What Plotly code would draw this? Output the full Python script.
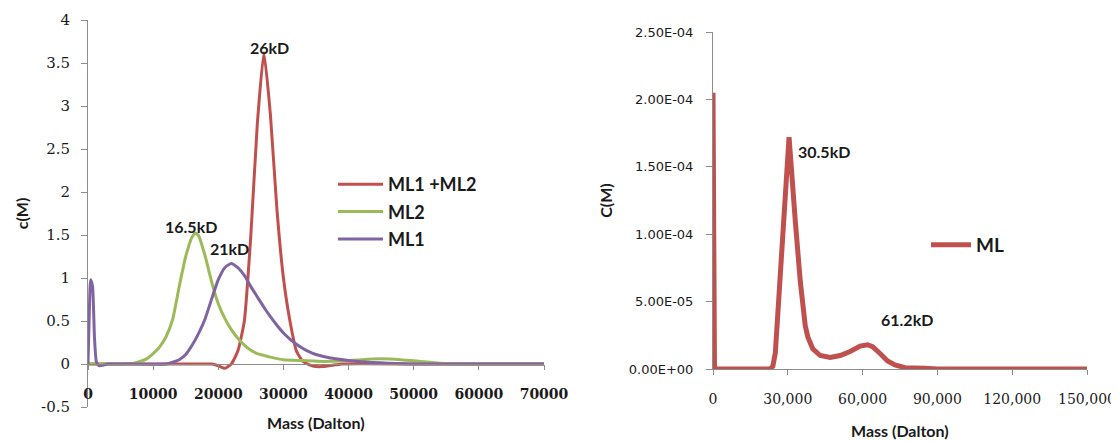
import plotly.graph_objects as go

# ---------------- Left panel data ----------------
mass_ml12 = [0, 1000, 5000, 10000, 15000, 18000, 19000, 20000, 21000, 22000, 23000, 24000, 25000,
             26000, 27000, 28000, 29000, 30000, 31000, 32000, 33000, 34000, 35000, 36000, 37000,
             38000, 39000, 50000, 60000, 70000]
c_ml12 = [0, 0, 0, 0, 0, 0, 0, -0.02, -0.05, 0.0, 0.15, 0.5, 1.5,
          2.8, 3.62, 2.9, 1.8, 1.0, 0.5, 0.15, 0.03, -0.01, -0.03, -0.03, -0.02,
          -0.01, 0, 0, 0, 0]

mass_ml2 = [0, 3000, 5000, 6000, 7000, 8000, 9000, 10000, 11000, 12000, 13000, 14000, 15000,
            16000, 16500, 17000, 18000, 19000, 20000, 21000, 22000, 23000, 24000, 25000, 26000,
            27000, 28000, 30000, 33000, 36000, 40000, 43000, 45000, 48000, 51000, 54000, 57000,
            70000]
c_ml2 = [0, 0, 0, 0.005, 0.01, 0.03, 0.06, 0.12, 0.2, 0.32, 0.52, 0.9, 1.25,
         1.48, 1.52, 1.49, 1.25, 0.95, 0.7, 0.53, 0.4, 0.3, 0.22, 0.16, 0.12,
         0.1, 0.08, 0.05, 0.04, 0.03, 0.04, 0.055, 0.06, 0.05, 0.03, 0.01, 0,
         0]

mass_ml1 = [0, 200, 400, 700, 1000, 1300, 1700, 2500, 3000, 12000, 13000, 14000, 15000, 16000,
            17000, 18000, 19000, 20000, 21000, 22000, 23000, 24000, 25000, 26000, 27000, 28000,
            29000, 30000, 31000, 32000, 33000, 34000, 35000, 36000, 38000, 40000, 43000, 46000,
            50000, 70000]
c_ml1 = [0, 0.6, 0.98, 0.9, 0.3, 0.02, -0.02, -0.01, 0, 0, 0.02, 0.05, 0.11, 0.22,
         0.36, 0.53, 0.76, 0.98, 1.12, 1.17, 1.12, 1.03, 0.9, 0.78, 0.66, 0.55,
         0.45, 0.36, 0.29, 0.23, 0.18, 0.14, 0.11, 0.09, 0.06, 0.04, 0.02, 0.01,
         0, 0]

left_yticks = [-0.5, 0, 0.5, 1, 1.5, 2, 2.5, 3, 3.5, 4]
left_yticklabels = ["-0.5", "0", "0.5", "1", "1.5", "2", "2.5", "3", "3.5", "4"]
left_xticks = [0, 10000, 20000, 30000, 40000, 50000, 60000, 70000]
left_xticklabels = ["0", "10000", "20000", "30000", "40000", "50000", "60000", "70000"]

# ---------------- Right panel data ----------------
mass_ml = [0, 600, 23000, 24000, 25000, 30500, 33000, 35000, 37000, 38000, 40000, 43000, 47000,
           51000, 55000, 59000, 62000, 64000, 67000, 70000, 73000, 77000, 85000, 90000, 150000]
c_ml = [2.05e-4, 0, 0, 2e-6, 1.2e-5, 1.72e-4, 1.1e-4, 6.5e-5, 3.2e-5, 2.4e-5, 1.5e-5, 1.0e-5, 8.5e-6,
        1.0e-5, 1.3e-5, 1.7e-5, 1.8e-5, 1.65e-5, 1.15e-5, 6e-6, 3e-6, 1e-6, 5e-7, 0, 0]

right_yticks = [0, 5e-5, 1e-4, 1.5e-4, 2e-4, 2.5e-4]
right_yticklabels = ["0.00E+00", "5.00E-05", "1.00E-04", "1.50E-04", "2.00E-04", "2.50E-04"]
right_xticks = [0, 30000, 60000, 90000, 120000, 150000]
right_xticklabels = ["0", "30,000", "60,000", "90,000", "120,000", "150,000"]

RED = "#C0504D"
GREEN = "#9BBB59"
PURPLE = "#8064A2"
AXIS = "#8C8C8C"
TXT = "#1a1a1a"

fig = go.Figure()
fig.add_trace(go.Scatter(x=mass_ml12, y=c_ml12, mode="lines", name="ML1 +ML2",
                         line=dict(color=RED, width=3, shape="spline", smoothing=0.5),
                         xaxis="x", yaxis="y", legend="legend", legendgroup="a"))
fig.add_trace(go.Scatter(x=mass_ml2, y=c_ml2, mode="lines", name="ML2",
                         line=dict(color=GREEN, width=3, shape="spline", smoothing=0.5),
                         xaxis="x", yaxis="y", legend="legend", legendgroup="b"))
fig.add_trace(go.Scatter(x=mass_ml1, y=c_ml1, mode="lines", name="ML1",
                         line=dict(color=PURPLE, width=3, shape="spline", smoothing=0.5),
                         xaxis="x", yaxis="y", legend="legend", legendgroup="c"))
fig.add_trace(go.Scatter(x=mass_ml, y=c_ml, mode="lines", name="ML",
                         line=dict(color=RED, width=5),
                         xaxis="x2", yaxis="y2", legend="legend2"))

# the page body has an 8px margin, so the figure starts at (8, 8)
OFF = 8
W, H = 1119 - OFF, 441 - OFF
def px_x(p):
    return (p - OFF) / W
def px_y(p):
    return (H - (p - OFF)) / H

serif_tick = dict(family="DejaVu Serif", size=15, color=TXT)
title_font = dict(family="Lato", size=16, color=TXT, weight="bold")

fig.update_layout(
    width=W, height=H,
    margin=dict(l=0, r=0, t=0, b=0),
    paper_bgcolor="white", plot_bgcolor="white",
    showlegend=True,
    xaxis=dict(domain=[px_x(88), px_x(544)], range=[0, 70000], anchor="free",
               position=px_y(364), showgrid=False, zeroline=False,
               showline=True, linecolor=AXIS, linewidth=1,
               ticks="outside", ticklen=5, tickcolor=AXIS,
               tickvals=left_xticks, ticktext=left_xticklabels,
               tickfont=dict(family="DejaVu Serif", size=14, color=TXT, weight="bold"),
               ticklabelstandoff=12, automargin=False),
    yaxis=dict(domain=[px_y(407), px_y(20)], range=[-0.5, 4], anchor="x",
               showgrid=False, zeroline=False,
               showline=True, linecolor=AXIS, linewidth=1,
               ticks="outside", ticklen=6, tickcolor=AXIS,
               tickvals=left_yticks, ticktext=left_yticklabels,
               tickfont=serif_tick, ticklabelstandoff=8,
               title=dict(text="c(M)", font=title_font, standoff=8),
               automargin=False),
    xaxis2=dict(domain=[px_x(713), px_x(1087)], range=[0, 150000], anchor="y2",
                showgrid=False, zeroline=False,
                showline=True, linecolor=AXIS, linewidth=1,
                ticks="outside", ticklen=5, tickcolor=AXIS,
                tickvals=right_xticks, ticktext=right_xticklabels,
                tickfont=dict(family="DejaVu Serif", size=14, color=TXT),
                ticklabelstandoff=12, automargin=False),
    yaxis2=dict(domain=[px_y(369), px_y(32)], range=[0, 2.5e-4], anchor="x2",
                showgrid=False, zeroline=False,
                showline=True, linecolor=AXIS, linewidth=1,
                ticks="outside", ticklen=6, tickcolor=AXIS,
                tickvals=right_yticks, ticktext=right_yticklabels,
                tickfont=dict(family="DejaVu Sans", size=13, color=TXT),
                ticklabelstandoff=10,
                title=dict(text="C(M)", font=title_font, standoff=12),
                automargin=False),
    legend=dict(x=px_x(333), y=px_y(166), xanchor="left", yanchor="top",
                bgcolor="rgba(0,0,0,0)", traceorder="grouped", tracegroupgap=1,
                itemwidth=45,
                font=dict(family="Lato", size=18, color=TXT, weight="bold")),
    legend2=dict(x=px_x(926), y=px_y(226), xanchor="left", yanchor="top",
                 bgcolor="rgba(0,0,0,0)", itemwidth=40,
                 font=dict(family="Lato", size=19, color=TXT, weight="bold")),
)

# x-axis titles
fig.add_annotation(text="Mass (Dalton)", xref="paper", yref="paper",
                   x=(px_x(88) + px_x(544)) / 2, y=px_y(422), xanchor="center", yanchor="middle",
                   showarrow=False, font=title_font)
fig.add_annotation(text="Mass (Dalton)", xref="paper", yref="paper",
                   x=(px_x(713) + px_x(1087)) / 2, y=px_y(430), xanchor="center", yanchor="middle",
                   showarrow=False, font=title_font)

ann_font = dict(family="Lato", size=16, color=TXT, weight="bold")
annotations = [
    dict(text="26kD", x=27900, y=3.68, xref="x", yref="y"),
    dict(text="16.5kD", x=15800, y=1.6, xref="x", yref="y"),
    dict(text="21kD", x=21700, y=1.34, xref="x", yref="y"),
    dict(text="30.5kD", x=44700, y=1.61e-4, xref="x2", yref="y2"),
    dict(text="61.2kD", x=78000, y=3.68e-5, xref="x2", yref="y2"),
]
for a in annotations:
    fig.add_annotation(showarrow=False, font=ann_font, **a)

fig.write_html("out.html")
